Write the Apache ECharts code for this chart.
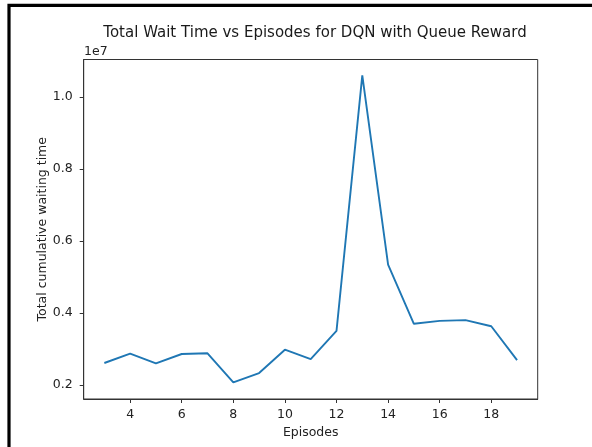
<!DOCTYPE html>
<html>
<head>
<meta charset="utf-8">
<script src="https://cdn.jsdelivr.net/npm/echarts@6/dist/echarts.min.js"></script>
<style>
  html, body { margin: 0; padding: 0; background: #fff; }
  #chart { width: 592px; height: 447px; }
</style>
</head>
<body>
<div id="chart"></div>
<script>
// episodes and total waiting time (units of 1e7)
var episodes = [3, 4, 5, 6, 7, 8, 9, 10, 11, 12, 13, 14, 15, 16, 17, 18, 19];
var waitTime = [0.261, 0.287, 0.260, 0.286, 0.288, 0.207, 0.233, 0.298, 0.272, 0.350,
                1.060, 0.534, 0.370, 0.378, 0.380, 0.363, 0.269];
var xTicks = [4, 6, 8, 10, 12, 14, 16, 18];
var yTicks = [0.2, 0.4, 0.6, 0.8, 1.0];

var font = 'DejaVu Sans';
var chart = echarts.init(document.getElementById('chart'));

var points = episodes.map(function (e, i) { return [e, waitTime[i]]; });

var option = {
    animation: false,
    backgroundColor: '#fff',
    title: {
        text: 'Total Wait Time vs Episodes for DQN with Queue Reward',
        left: 310,
        textAlign: 'center',
        top: 21,
        textStyle: { fontFamily: font, fontSize: 15, fontWeight: 'normal', color: '#1a1a1a' }
    },
    grid: {
        left: 83.7,
        right: 54.3,
        top: 59.5,
        bottom: 48,
        show: true,
        borderColor: '#333',
        borderWidth: 1,
        containLabel: false
    },
    xAxis: {
        type: 'value',
        min: 2.2,
        max: 19.8,
        name: 'Episodes',
        nameLocation: 'middle',
        nameGap: 27,
        nameMoveOverlap: false,
        nameTextStyle: { fontFamily: font, fontSize: 12.5, color: '#222' },
        axisLine: { show: true, lineStyle: { color: '#333', width: 1 } },
        axisTick: { show: true, length: 4, customValues: xTicks, lineStyle: { color: '#333' } },
        axisLabel: {
            customValues: xTicks,
            fontFamily: font, fontSize: 12.5, color: '#222', margin: 9
        },
        splitLine: { show: false }
    },
    yAxis: {
        type: 'value',
        min: 0.161,
        max: 1.104,
        name: 'Total cumulative waiting time',
        nameLocation: 'middle',
        nameGap: 34,
        nameMoveOverlap: false,
        nameRotate: 90,
        nameTextStyle: { fontFamily: font, fontSize: 12.5, color: '#222' },
        axisLine: { show: true, lineStyle: { color: '#333', width: 1 } },
        axisTick: { show: true, length: 4, customValues: yTicks, lineStyle: { color: '#333' } },
        axisLabel: {
            customValues: yTicks,
            formatter: function (v) { return v.toFixed(1); },
            fontFamily: font, fontSize: 12.5, color: '#222', margin: 11
        },
        splitLine: { show: false }
    },
    graphic: [
        {
            type: 'text',
            left: 84,
            top: 45,
            style: { text: '1e7', font: '12.5px "DejaVu Sans"', fill: '#222' }
        },
        {
            // outer frame: left and top edges only
            type: 'polyline',
            shape: { points: [[9, 447], [9, 5.3], [592, 5.3]] },
            style: { fill: 'none', stroke: '#000', lineWidth: 3.2 },
            silent: true
        }
    ],
    series: [
        {
            type: 'line',
            data: points,
            symbol: 'none',
            lineStyle: { color: '#1f77b4', width: 1.9 },
            itemStyle: { color: '#1f77b4' }
        }
    ]
};

chart.setOption(option);
</script>
</body>
</html>
